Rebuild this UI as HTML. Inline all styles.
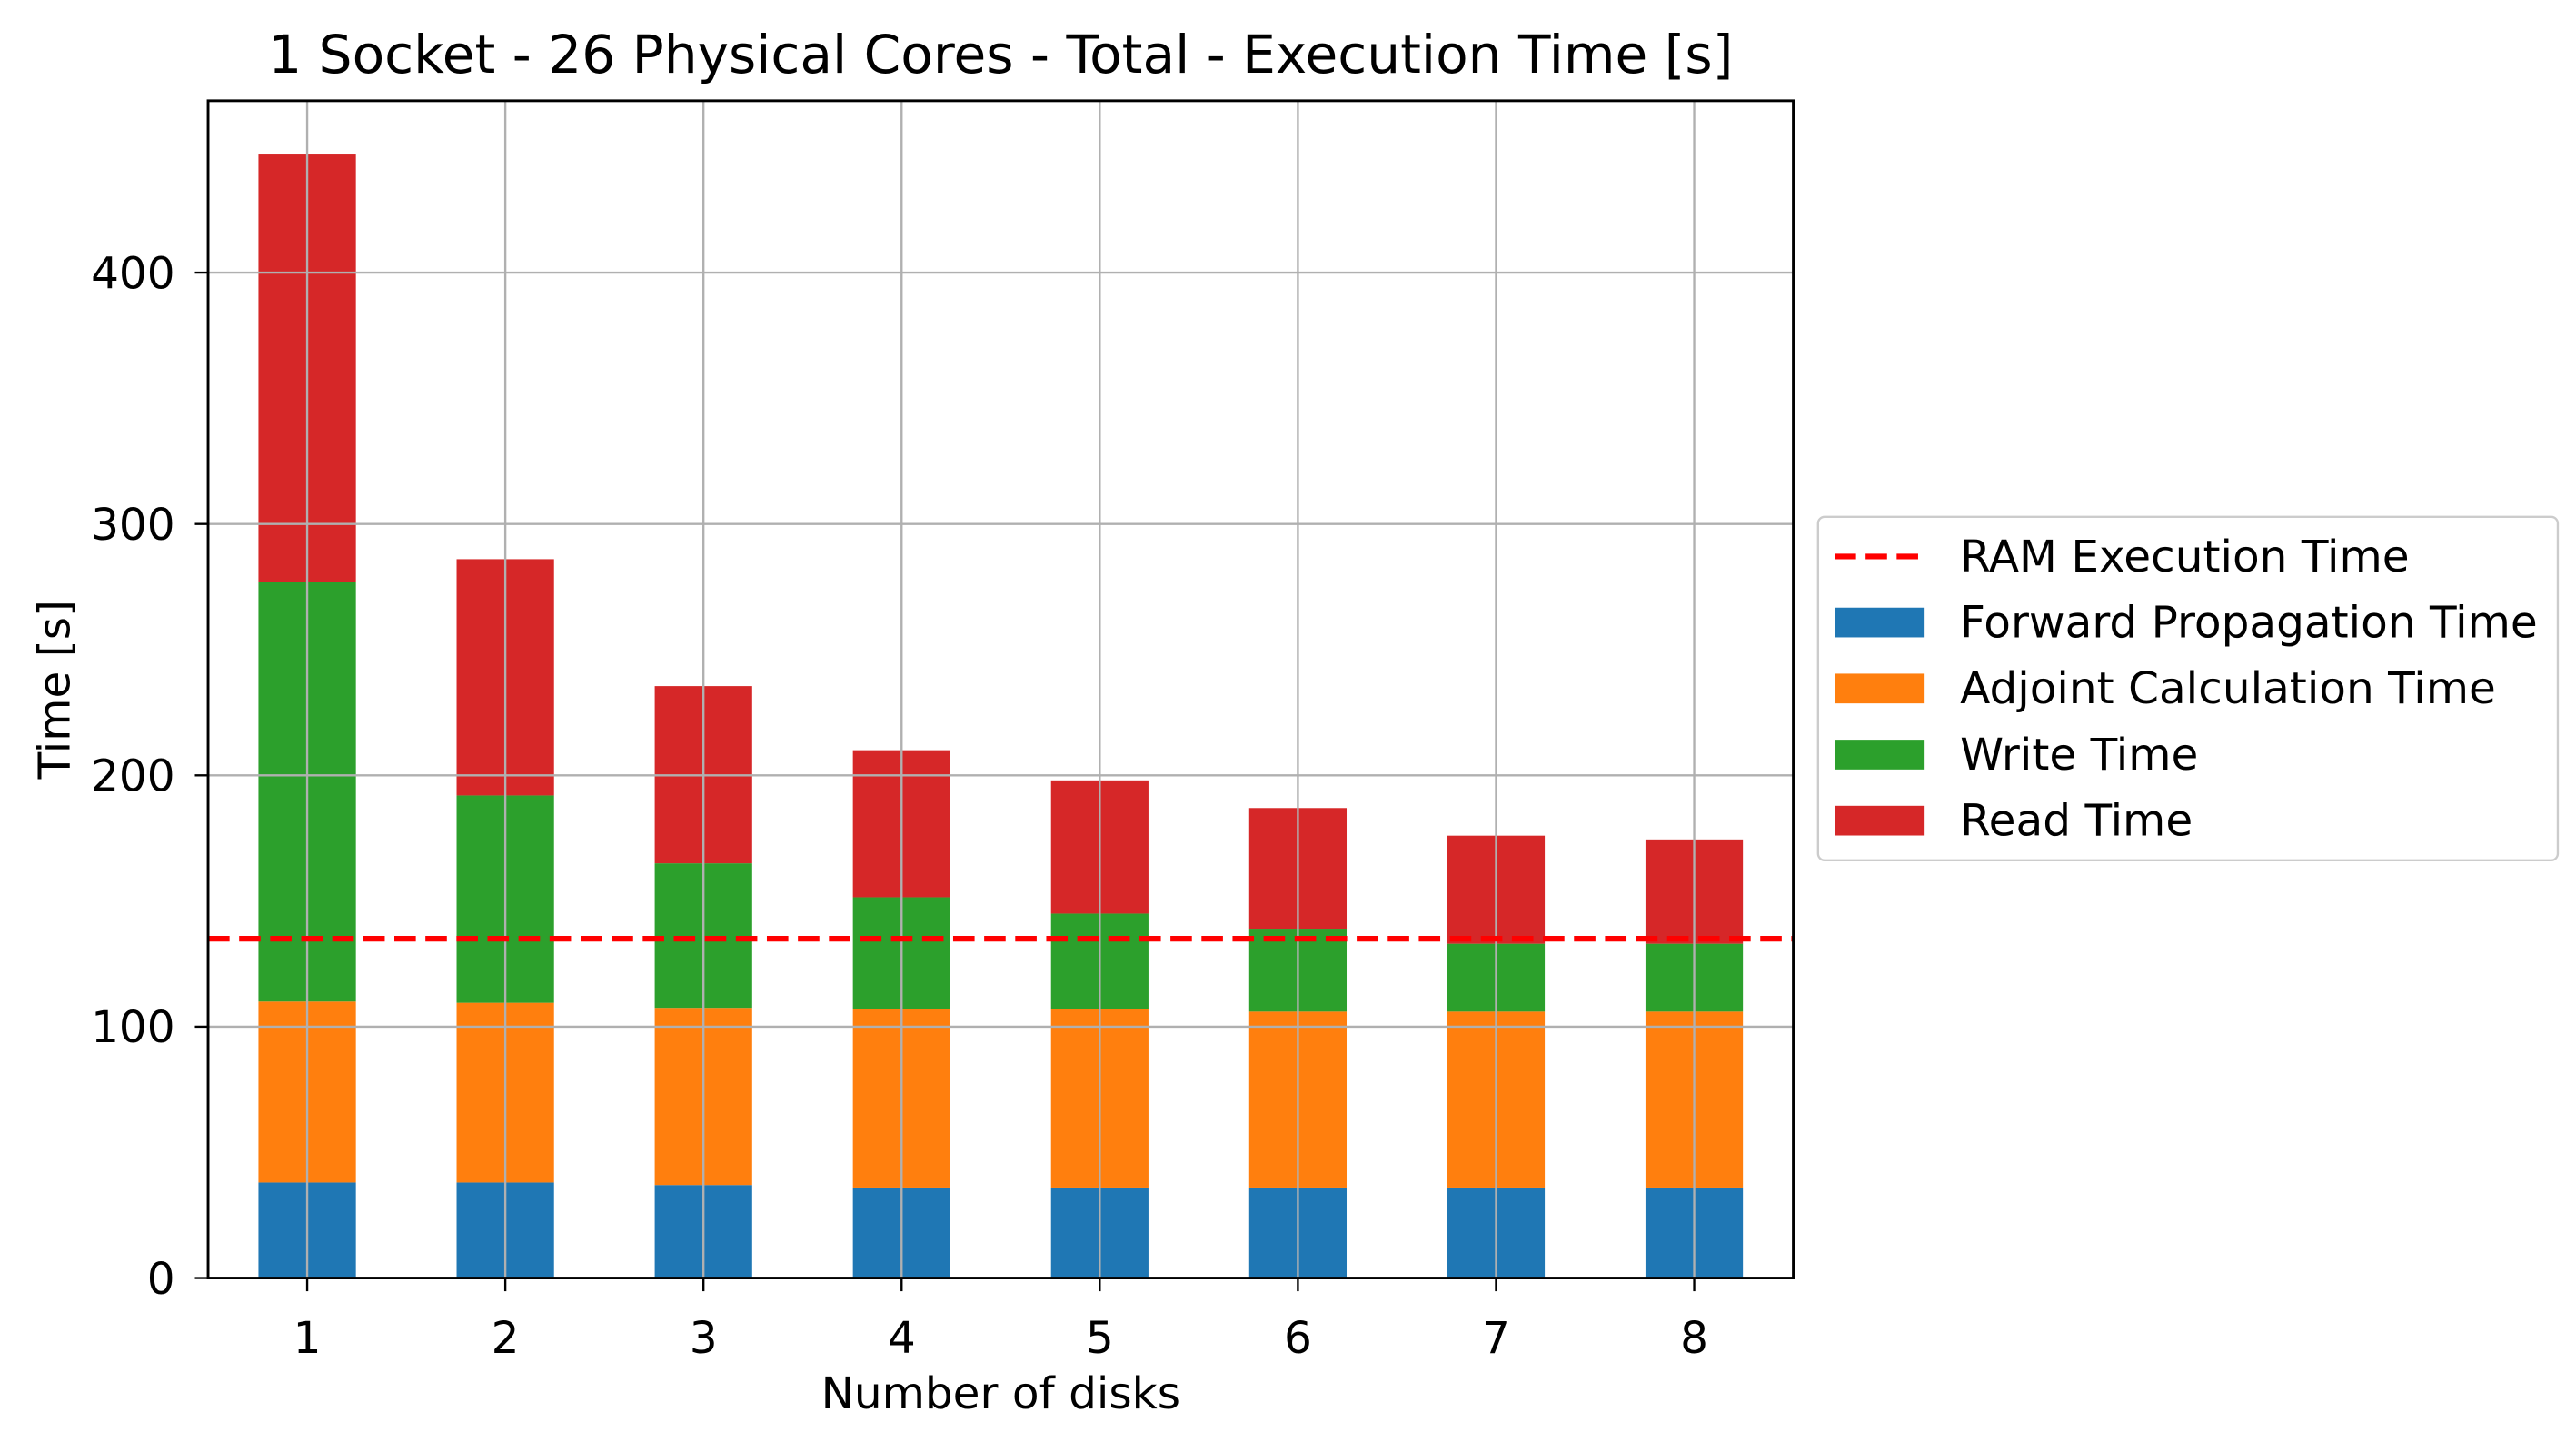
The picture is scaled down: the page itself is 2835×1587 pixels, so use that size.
<!DOCTYPE html>
<html><head><meta charset="utf-8"><style>html,body{margin:0;padding:0;background:#fff}svg{display:block}text{font-family:"DejaVu Sans","Liberation Sans",sans-serif;fill:#000}</style></head>
<body>
<svg id="chart" width="2835" height="1587" viewBox="0 0 1560 873.3" xmlns="http://www.w3.org/2000/svg">
<rect width="1560" height="873.3" fill="#fff"/>
<g id="bars"></g>
<g id="overlay"></g>
</svg>
<script>
const categories = ["1","2","3","4","5","6","7","8"];
const forward = [38, 38, 37, 36, 36, 36, 36, 36];
const adjoint = [72, 71.5, 70.5, 71, 71, 70, 70, 70];
const write = [167, 82.5, 57.5, 44.5, 38, 33, 27, 27];
const read = [170, 94, 70.5, 58.5, 53, 48, 43, 41.5];
const ramTime = 135;
const yTicks = [0, 100, 200, 300, 400];
const seriesNames = ["Forward Propagation Time","Adjoint Calculation Time","Write Time","Read Time"];
const seriesColors = ["#1f77b4","#ff7f0e","#2ca02c","#d62728"];

const NS = "http://www.w3.org/2000/svg";
const L = 126, R = 1086, T = 61, B = 774;
const yMax = 468.4;
const FS = 26.7;
function y(v){ return B - v * (B - T) / yMax; }
function x(i){ return L + (i + 0.5) * (R - L) / categories.length; }
const bw = 59;
function mk(tag, attrs, parent, txt){
  const e = document.createElementNS(NS, tag);
  for (const k in attrs) e.setAttribute(k, attrs[k]);
  if (txt !== undefined) e.textContent = txt;
  parent.appendChild(e);
  return e;
}
const bars = document.getElementById('bars');
const ov = document.getElementById('overlay');

const series = [forward, adjoint, write, read];
categories.forEach((c, i) => {
  let base = 0;
  series.forEach((s, k) => {
    const r = mk('rect', {x: x(i) - bw/2, y: y(base + s[i]), width: bw, height: y(base) - y(base + s[i]), fill: seriesColors[k]}, bars);
    
    
    base += s[i];
  });
});
categories.forEach((c, i) => {
  const g = mk('line', {x1: x(i), x2: x(i), y1: T, y2: B, stroke: '#b0b0b0', 'stroke-width': 1.3}, ov);
  
  
  const t = mk('line', {x1: x(i), x2: x(i), y1: B, y2: B + 8, stroke: '#000', 'stroke-width': 1.3}, ov);
  
  
  const tl = mk('text', {x: x(i), y: 819.5, 'font-size': FS, 'text-anchor': 'middle'}, ov, c);
  
  
});
yTicks.forEach(v => {
  const g = mk('line', {x1: L, x2: R, y1: y(v), y2: y(v), stroke: '#b0b0b0', 'stroke-width': 1.3}, ov);
  
  
  const t = mk('line', {x1: L - 8, x2: L, y1: y(v), y2: y(v), stroke: '#000', 'stroke-width': 1.3}, ov);
  
  
  const tl = mk('text', {x: L - 20, y: y(v) + 9.5, 'font-size': FS, 'text-anchor': 'end'}, ov, String(v));
  
  
});
const ram = mk('line', {x1: L, x2: R, y1: y(ramTime), y2: y(ramTime), stroke: '#ff0000', 'stroke-width': 3.4, 'stroke-dasharray': '13 5.8'}, ov);


const frame = mk('rect', {x: L, y: T, width: R - L, height: B - T, fill: 'none', stroke: '#000', 'stroke-width': 1.6}, ov);



const title = mk('text', {x: (L + R) / 2, y: 44, 'font-size': 32, 'text-anchor': 'middle'}, ov, '1 Socket - 26 Physical Cores - Total - Execution Time [s]');


const xl = mk('text', {x: (L + R) / 2, y: 853, 'font-size': FS, 'text-anchor': 'middle'}, ov, 'Number of disks');


const yl = mk('text', {x: 0, y: 0, 'font-size': FS, 'text-anchor': 'middle', transform: 'translate(42,' + ((T + B) / 2) + ') rotate(-90)'}, ov, 'Time [s]');



const lg = mk('g', {}, ov);


mk('rect', {x: 1101, y: 313, width: 448, height: 208, rx: 4, fill: '#fff', stroke: '#cccccc', 'stroke-width': 1.3}, lg);
const ramH = mk('line', {x1: 1111, x2: 1165, y1: 337, y2: 337, stroke: '#ff0000', 'stroke-width': 3.4, 'stroke-dasharray': '13 5.8'}, lg);


const ramT = mk('text', {x: 1187, y: 346, 'font-size': FS}, lg, 'RAM Execution Time');


seriesNames.forEach((n, k) => {
  const cy = 377 + k * 40;
  const h = mk('rect', {x: 1111, y: cy - 9, width: 54, height: 18, fill: seriesColors[k]}, lg);
  
  
  const t = mk('text', {x: 1187, y: cy + 9, 'font-size': FS}, lg, n);
  
  
});
</script>
</body></html>
